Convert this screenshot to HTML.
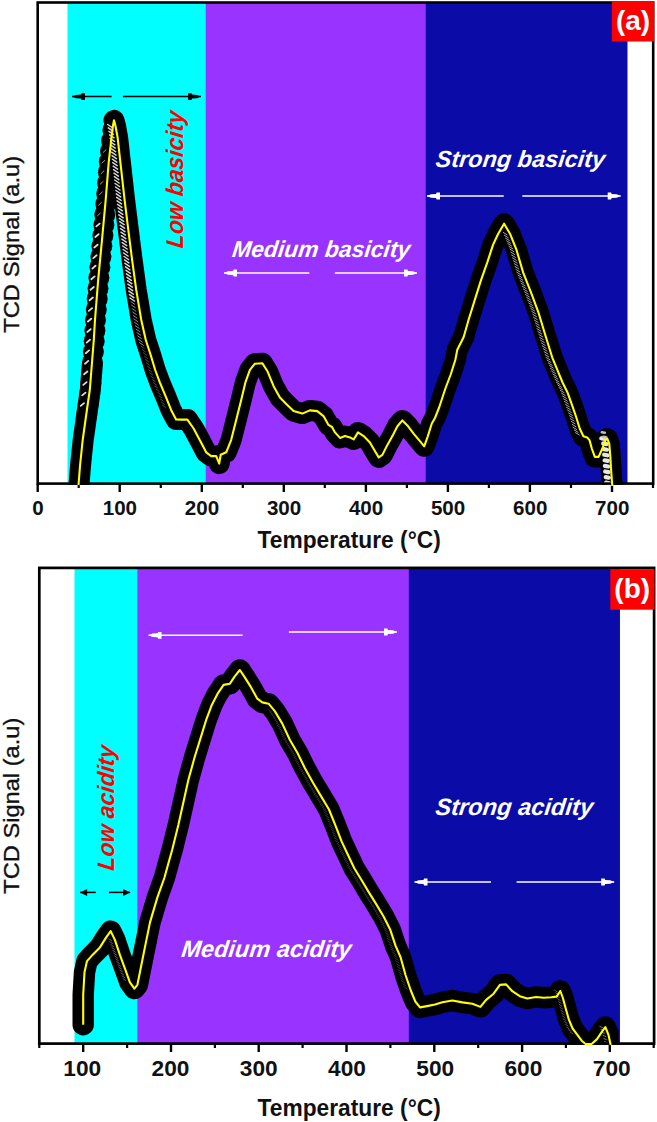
<!DOCTYPE html>
<html><head><meta charset="utf-8"><title>TPD profiles</title>
<style>html,body{margin:0;padding:0;background:#fff}body{width:657px;height:1122px;overflow:hidden;font-family:"Liberation Sans",sans-serif}</style>
</head><body>
<svg width="657" height="1122" viewBox="0 0 657 1122" style="display:block">
<defs>
<g id="mk"><circle r="10" fill="#000"/><path d="M0.5,-7.2A7.2,7.2 0 0 0 0.5,7.2Z" fill="#e8e8e8"/></g>
<g id="mk2"><circle r="10" fill="#000"/><path d="M-1,-7.4A7.4,7.4 0 0 0 -1,7.4Z" fill="#cfcfcf"/></g>
<path id="ah" d="M0,0L4,-1.7L9,-2L9.6,-3.4L13,-3.4L13,3.4L9.6,3.4L9,2L4,1.7Z"/>
<path id="ahs" d="M0,0L7,-3.5L7,3.5Z"/>
<clipPath id="ca"><rect x="38" y="3" width="615" height="482"/></clipPath>
<clipPath id="cay"><rect x="38" y="3" width="615" height="483.4"/></clipPath>
<clipPath id="cby"><rect x="39" y="568" width="615" height="477.2"/></clipPath>
<clipPath id="cb"><rect x="39" y="568" width="579.6" height="477"/></clipPath>
</defs>
<rect width="657" height="1122" fill="#fff"/>
<rect x="67.5" y="2.5" width="559.8" height="481" fill="#00FFFF"/>
<rect x="205.7" y="2.5" width="421.6" height="481" fill="#9933FF"/>
<rect x="425.7" y="2.5" width="201.6" height="481" fill="#0B0BA8"/>
<line x1="72" y1="96.6" x2="111.6" y2="96.6" stroke="#000" stroke-width="1.5"/><use href="#ah" x="72" y="96.6" fill="#000"/>
<line x1="122.9" y1="96.6" x2="201" y2="96.6" stroke="#000" stroke-width="1.5"/><use href="#ah" transform="translate(201,96.6) scale(-1,1)" fill="#000"/>
<line x1="224" y1="273" x2="309.3" y2="273" stroke="#fff" stroke-width="1.5"/><use href="#ah" x="224" y="273" fill="#fff"/>
<line x1="334.8" y1="273" x2="417" y2="273" stroke="#fff" stroke-width="1.5"/><use href="#ah" transform="translate(417,273) scale(-1,1)" fill="#fff"/>
<line x1="427" y1="196" x2="503.7" y2="196" stroke="#fff" stroke-width="1.5"/><use href="#ah" x="427" y="196" fill="#fff"/>
<line x1="522.3" y1="196" x2="620.7" y2="196" stroke="#fff" stroke-width="1.5"/><use href="#ah" transform="translate(620.7,196) scale(-1,1)" fill="#fff"/>
<text transform="translate(231.5 257) skewX(-7)" style="font-family:'Liberation Sans',sans-serif;font-weight:bold;font-style:italic;font-size:23px" fill="#fff" textLength="178" lengthAdjust="spacingAndGlyphs">Medium basicity</text>
<text transform="translate(435.0 167) skewX(-7)" style="font-family:'Liberation Sans',sans-serif;font-weight:bold;font-style:italic;font-size:23.4px" fill="#fff" textLength="169.4" lengthAdjust="spacingAndGlyphs">Strong basicity</text>
<text transform="translate(182.5 248.8) rotate(-90) skewX(-7)" style="font-family:'Liberation Sans',sans-serif;font-weight:bold;font-style:italic;font-size:24px" fill="#f00" textLength="137" lengthAdjust="spacingAndGlyphs">Low basicity</text>
<g clip-path="url(#ca)">
<polyline points="79.0,485.0 80.6,465.0 83.2,440.0 86.7,415.0 90.3,390.0 92.3,365.0" fill="none" stroke="#000" stroke-width="21.0" stroke-linejoin="round" stroke-linecap="round"/>
<polyline points="114.0,120.3 115.5,126.0 117.6,137.4 120.4,162.4 124.6,199.9 128.3,229.8 132.1,259.8 136.2,289.7 141.2,319.7 145.8,340.0 150.7,355.0 155.2,370.0 159.8,382.4 166.1,397.4 171.1,409.9 176.1,419.4 181.0,419.6 187.4,419.6" fill="none" stroke="#000" stroke-width="21.0" stroke-linejoin="round" stroke-linecap="round"/>
<polyline points="181.0,419.6 187.4,419.6 193.6,428.5 200.0,440.5 206.2,452.3 211.2,456.1 216.2,456.1 219.2,463.6 220.7,454.8 226.2,452.3 231.2,439.8 236.2,419.9 241.2,399.9 245.4,382.4 249.9,369.9 254.9,363.7 262.4,363.2 267.4,371.2 273.6,386.2 279.9,397.4 287.3,404.9 293.6,411.1 302.3,413.6 309.8,410.4 317.3,411.1 323.5,416.1 328.5,424.9 332.0,427.0 335.0,432.4 340.0,437.9 345.0,436.1 350.0,437.4 353.7,439.4 358.0,432.4 363.7,436.1 369.9,442.4 374.9,451.1 378.7,457.4 382.4,454.9 387.4,444.9 392.4,436.1 397.4,426.2 402.4,420.4 407.4,425.4 413.6,433.6 419.9,441.1 424.2,446.3 427.7,436.6 431.8,423.5 435.0,418.0 439.3,407.0 445.4,388.5 450.7,374.5 455.3,360.0 457.3,349.8 463.6,337.3 468.6,319.8 474.8,299.9 481.1,279.9 487.3,262.4 493.0,244.9 498.2,233.7 504.1,223.7 510.0,233.7 516.5,249.9 523.1,272.4 531.0,292.4 538.4,312.3 545.2,334.8 552.2,357.3 559.3,374.7 562.8,383.0 567.4,392.2 571.8,404.4 576.0,416.5 579.8,428.7 583.4,436.3 587.2,437.5 589.5,440.1 591.8,448.5 594.8,456.9 598.6,456.9 602.4,448.5 605.4,440.1 607.3,438.6 609.3,443.9 610.3,456.1 611.2,471.3 612.3,486.0" fill="none" stroke="#000" stroke-width="21.0" stroke-linejoin="round" stroke-linecap="round"/>
<circle cx="86.7" cy="415.0" r="10.5" fill="#000"/><circle cx="88.2" cy="404.5" r="10.5" fill="#000"/><circle cx="89.7" cy="394.0" r="10.5" fill="#000"/><circle cx="90.8" cy="383.5" r="10.5" fill="#000"/><circle cx="91.7" cy="372.9" r="10.5" fill="#000"/><circle cx="92.5" cy="362.3" r="10.5" fill="#000"/><circle cx="93.4" cy="351.8" r="10.5" fill="#000"/><circle cx="94.2" cy="341.2" r="10.5" fill="#000"/><circle cx="94.9" cy="330.6" r="10.5" fill="#000"/><circle cx="95.5" cy="320.1" r="10.5" fill="#000"/><circle cx="96.3" cy="309.5" r="10.5" fill="#000"/><circle cx="97.2" cy="298.9" r="10.5" fill="#000"/><circle cx="98.0" cy="288.4" r="10.5" fill="#000"/><circle cx="98.9" cy="277.8" r="10.5" fill="#000"/><circle cx="99.9" cy="267.2" r="10.5" fill="#000"/><circle cx="100.9" cy="256.7" r="10.5" fill="#000"/><circle cx="101.9" cy="246.1" r="10.5" fill="#000"/><circle cx="102.9" cy="235.6" r="10.5" fill="#000"/><circle cx="103.9" cy="225.0" r="10.5" fill="#000"/><circle cx="104.8" cy="214.5" r="10.5" fill="#000"/><circle cx="105.8" cy="203.9" r="10.5" fill="#000"/><circle cx="106.7" cy="193.4" r="10.5" fill="#000"/><circle cx="107.6" cy="182.8" r="10.5" fill="#000"/><circle cx="108.4" cy="172.2" r="10.5" fill="#000"/><circle cx="109.3" cy="161.7" r="10.5" fill="#000"/><circle cx="110.5" cy="151.1" r="10.5" fill="#000"/><circle cx="111.6" cy="140.6" r="10.5" fill="#000"/><circle cx="112.9" cy="130.1" r="10.5" fill="#000"/>
<path d="M80.7,405.9L84.0,403.1M82.2,395.4L85.5,392.6M83.3,384.9L86.6,382.1M84.1,374.3L87.4,371.5M85.0,363.7L88.3,360.9M85.8,353.2L89.1,350.4M86.7,342.6L90.0,339.8M87.3,332.0L90.6,329.2M87.9,321.5L91.2,318.7M88.8,310.9L92.1,308.1M89.6,300.3L92.9,297.5M90.5,289.8L93.8,287.0M91.3,279.2L94.6,276.4M92.3,268.6L95.6,265.8M93.3,258.1L96.6,255.3M94.3,247.5L97.6,244.7M95.3,237.0L98.6,234.2M96.3,226.4L99.6,223.6" stroke="#dcdcdc" stroke-width="1.8" stroke-linecap="round" fill="none"/>
<path d="M97.5,215.8L100.3,213.2M98.5,205.2L101.3,202.6M99.4,194.7L102.2,192.1M100.3,184.1L103.1,181.5M101.1,173.5L103.9,170.9M102.0,163.0L104.8,160.4M103.2,152.4L106.0,149.8" stroke="#9c9c9c" stroke-width="1.0" stroke-linecap="round" fill="none"/>
<path d="M107.7,124.5L112.1,127.5M108.3,127.9L112.7,130.9M109.0,131.4L113.4,134.4M109.6,134.8L114.0,137.8M110.1,138.3L114.5,141.3M110.5,141.8L114.9,144.8M110.8,145.2L115.2,148.2M111.2,148.7L115.6,151.7M111.6,152.2L116.0,155.2M112.0,155.7L116.4,158.7M112.4,159.2L116.8,162.2M112.8,162.6L117.2,165.6M113.2,166.1L117.6,169.1M113.6,169.6L118.0,172.6M114.0,173.1L118.4,176.1M114.4,176.6L118.8,179.6M114.7,180.0L119.1,183.0M115.1,183.5L119.5,186.5M115.5,187.0L119.9,190.0M115.9,190.5L120.3,193.5M116.3,193.9L120.7,196.9M116.7,197.4L121.1,200.4M117.1,200.9L121.5,203.9M117.5,204.4L121.9,207.4M118.0,207.8L122.4,210.8M118.4,211.3L122.8,214.3M118.8,214.8L123.2,217.8M119.3,218.3L123.7,221.3M119.7,221.7L124.1,224.7M120.1,225.2L124.5,228.2M120.5,228.7L124.9,231.7M121.0,232.2L125.4,235.2M121.4,235.6L125.8,238.6M121.9,239.1L126.3,242.1M122.3,242.6L126.7,245.6M122.7,246.0L127.1,249.0M123.2,249.5L127.6,252.5M123.6,253.0L128.0,256.0M124.1,256.5L128.5,259.5M124.5,259.9L128.9,262.9M125.0,263.4L129.4,266.4M125.5,266.9L129.9,269.9M126.0,270.3L130.4,273.3M126.4,273.8L130.8,276.8M126.9,277.3L131.3,280.3M127.4,280.7L131.8,283.7M127.9,284.2L132.3,287.2M128.3,287.7L132.7,290.7M128.9,291.1L133.3,294.1M129.5,294.6L133.9,297.6M130.0,298.0L134.4,301.0" stroke="#d6d6d6" stroke-width="1.5" stroke-linecap="round" fill="none"/>
<path d="M130.9,301.7L134.7,304.3M131.5,305.1L135.3,307.7M132.1,308.6L135.9,311.2M132.6,312.0L136.4,314.6M133.2,315.5L137.0,318.1M133.8,318.9L137.6,321.5M134.6,322.4L138.4,325.0M135.4,325.8L139.2,328.4M136.1,329.2L139.9,331.8M136.9,332.6L140.7,335.2M137.7,336.0L141.5,338.6M138.5,339.4L142.3,342.0M139.6,342.7L143.4,345.3" stroke="#8c8c8c" stroke-width="1.0" stroke-linecap="round" fill="none"/>
<path d="M141.3,346.3L144.3,348.5M142.4,349.6L145.4,351.8M143.5,352.9L146.5,355.1M144.5,356.3L147.5,358.5M145.5,359.6L148.5,361.8M146.5,363.0L149.5,365.2M147.5,366.3L150.5,368.5M148.6,369.7L151.6,371.9M149.8,372.9L152.8,375.1M151.0,376.2L154.0,378.4M152.2,379.5L155.2,381.7M153.5,382.8L156.5,385.0M154.9,386.0L157.9,388.2M156.2,389.2L159.2,391.4M157.6,392.4L160.6,394.6M158.9,395.7L161.9,397.9M160.2,398.9L163.2,401.1M161.5,402.2L164.5,404.4M162.8,405.4L165.8,407.6" stroke="#5e5e5e" stroke-width="0.8" stroke-linecap="round" fill="none"/>
<path d="M503.3,232.5L507.1,234.9M504.4,235.3L508.2,237.7M505.5,238.1L509.3,240.5M506.7,240.9L510.5,243.3M507.8,243.6L511.6,246.0M508.9,246.4L512.7,248.8M510.0,249.2L513.8,251.6M510.8,252.1L514.6,254.5M511.6,255.0L515.4,257.4M512.5,257.9L516.3,260.3M513.3,260.7L517.1,263.1M514.2,263.6L518.0,266.0M515.0,266.5L518.8,268.9M515.9,269.4L519.7,271.8M516.8,272.2L520.6,274.6M517.9,275.0L521.7,277.4M519.0,277.8L522.8,280.2M520.1,280.6L523.9,283.0M521.2,283.4L525.0,285.8M522.3,286.2L526.1,288.6M523.4,289.0L527.2,291.4M524.5,291.8L528.3,294.2M525.6,294.6L529.4,297.0M526.6,297.4L530.4,299.8M527.6,300.2L531.4,302.6M528.7,303.0L532.5,305.4M529.7,305.8L533.5,308.2M530.8,308.6L534.6,311.0M531.8,311.4L535.6,313.8M532.7,314.3L536.5,316.7M533.5,317.2L537.3,319.6M534.4,320.1L538.2,322.5M535.3,322.9L539.1,325.3M536.1,325.8L539.9,328.2M537.0,328.7L540.8,331.1M537.9,331.5L541.7,333.9M538.8,334.4L542.6,336.8M539.6,337.3L543.4,339.7M540.5,340.1L544.3,342.5M541.4,343.0L545.2,345.4M542.3,345.9L546.1,348.3M543.2,348.7L547.0,351.1M544.1,351.6L547.9,354.0M545.0,354.5L548.8,356.9M546.0,357.3L549.8,359.7M547.1,360.1L550.9,362.5M548.3,362.9L552.1,365.3M549.4,365.6L553.2,368.0M550.5,368.4L554.3,370.8M551.7,371.2L555.5,373.6M552.8,374.0L556.6,376.4M554.0,376.7L557.8,379.1M555.1,379.5L558.9,381.9M556.3,382.2L560.1,384.6M557.7,384.9L561.5,387.3M559.0,387.6L562.8,390.0M560.3,390.3L564.1,392.7M561.4,393.1L565.2,395.5M562.5,395.9L566.3,398.3M563.5,398.7L567.3,401.1M564.5,401.5L568.3,403.9M565.5,404.4L569.3,406.8M566.5,407.2L570.3,409.6M567.5,410.0L571.3,412.4M568.5,412.9L572.3,415.3M569.4,415.7L573.2,418.1M570.3,418.6L574.1,421.0M571.2,421.4L575.0,423.8M572.1,424.3L575.9,426.7M573.0,427.2L576.8,429.6M574.2,429.9L578.0,432.3M575.5,432.6L579.3,435.0" stroke="#a8a8a8" stroke-width="1.0" stroke-linecap="round" fill="none"/>
<path d="M601.3,438.3L604.5,438.9M603.3,443.5L606.5,444.1M603.8,449.1L607.0,449.7M604.2,454.7L607.4,455.3M604.6,460.3L607.8,460.9M604.9,465.9L608.1,466.5M605.2,471.5L608.4,472.1M605.7,477.1L608.9,477.7M606.1,482.6L609.3,483.2" stroke="#e6e6e6" stroke-width="4.2" stroke-linecap="round" fill="none"/>
<path d="M603.2,436.7L606.2,437.3M601.8,432.2L604.8,432.8" stroke="#bdbdbd" stroke-width="2.6" stroke-linecap="round" fill="none"/>
</g>
<rect x="37.7" y="2.5" width="615.5" height="481.1" fill="none" stroke="#000" stroke-width="2.6"/>
<line x1="37.7" y1="484" x2="37.7" y2="492" stroke="#000" stroke-width="2.4"/>
<line x1="119.7" y1="484" x2="119.7" y2="492" stroke="#000" stroke-width="2.4"/>
<line x1="201.8" y1="484" x2="201.8" y2="492" stroke="#000" stroke-width="2.4"/>
<line x1="283.8" y1="484" x2="283.8" y2="492" stroke="#000" stroke-width="2.4"/>
<line x1="365.9" y1="484" x2="365.9" y2="492" stroke="#000" stroke-width="2.4"/>
<line x1="447.9" y1="484" x2="447.9" y2="492" stroke="#000" stroke-width="2.4"/>
<line x1="529.9" y1="484" x2="529.9" y2="492" stroke="#000" stroke-width="2.4"/>
<line x1="612.0" y1="484" x2="612.0" y2="492" stroke="#000" stroke-width="2.4"/>
<line x1="78.7" y1="484" x2="78.7" y2="488" stroke="#000" stroke-width="2.2"/>
<line x1="160.8" y1="484" x2="160.8" y2="488" stroke="#000" stroke-width="2.2"/>
<line x1="242.8" y1="484" x2="242.8" y2="488" stroke="#000" stroke-width="2.2"/>
<line x1="324.8" y1="484" x2="324.8" y2="488" stroke="#000" stroke-width="2.2"/>
<line x1="406.9" y1="484" x2="406.9" y2="488" stroke="#000" stroke-width="2.2"/>
<line x1="488.9" y1="484" x2="488.9" y2="488" stroke="#000" stroke-width="2.2"/>
<line x1="571.0" y1="484" x2="571.0" y2="488" stroke="#000" stroke-width="2.2"/>
<line x1="653.0" y1="484" x2="653.0" y2="488" stroke="#000" stroke-width="2.2"/>
<text x="37.9" y="514.8" text-anchor="middle" style="font-family:'Liberation Sans',sans-serif;font-weight:bold;font-size:20.6px" fill="#111">0</text>
<text x="119.9" y="514.8" text-anchor="middle" style="font-family:'Liberation Sans',sans-serif;font-weight:bold;font-size:20.6px" fill="#111">100</text>
<text x="202.0" y="514.8" text-anchor="middle" style="font-family:'Liberation Sans',sans-serif;font-weight:bold;font-size:20.6px" fill="#111">200</text>
<text x="284.1" y="514.8" text-anchor="middle" style="font-family:'Liberation Sans',sans-serif;font-weight:bold;font-size:20.6px" fill="#111">300</text>
<text x="366.1" y="514.8" text-anchor="middle" style="font-family:'Liberation Sans',sans-serif;font-weight:bold;font-size:20.6px" fill="#111">400</text>
<text x="448.1" y="514.8" text-anchor="middle" style="font-family:'Liberation Sans',sans-serif;font-weight:bold;font-size:20.6px" fill="#111">500</text>
<text x="530.2" y="514.8" text-anchor="middle" style="font-family:'Liberation Sans',sans-serif;font-weight:bold;font-size:20.6px" fill="#111">600</text>
<text x="612.2" y="514.8" text-anchor="middle" style="font-family:'Liberation Sans',sans-serif;font-weight:bold;font-size:20.6px" fill="#111">700</text>
<text x="257.6" y="547.6" style="font-family:'Liberation Sans',sans-serif;font-weight:bold;font-size:23.2px" fill="#111" textLength="183.2" lengthAdjust="spacingAndGlyphs">Temperature (°C)</text>
<text x="18.7" y="332.8" style="font-family:'Liberation Sans',sans-serif;font-size:22.5px" fill="#111" stroke="#111" stroke-width="0.35" textLength="177" lengthAdjust="spacingAndGlyphs" transform="rotate(-90 18.7 332.8)">TCD Signal (a.u)</text>
<polyline clip-path="url(#cay)" points="78.5,485.0 80.1,465.0 82.7,440.0 86.2,415.0 89.8,390.0 91.8,365.0 93.8,340.0 95.0,319.7 98.2,279.7 102.0,239.8 105.7,199.9 108.7,162.4 111.5,137.4 112.9,126.0 114.0,120.3 115.5,126.0 117.6,137.4 120.4,162.4 124.6,199.9 128.3,229.8 132.1,259.8 136.2,289.7 141.2,319.7 145.8,340.0 150.7,355.0 155.2,370.0 159.8,382.4 166.1,397.4 171.1,409.9 176.1,419.4 181.0,419.6 187.4,419.6 193.6,428.5 200.0,440.5 206.2,452.3 211.2,456.1 216.2,456.1 219.2,463.6 220.7,454.8 226.2,452.3 231.2,439.8 236.2,419.9 241.2,399.9 245.4,382.4 249.9,369.9 254.9,363.7 262.4,363.2 267.4,371.2 273.6,386.2 279.9,397.4 287.3,404.9 293.6,411.1 302.3,413.6 309.8,410.4 317.3,411.1 323.5,416.1 328.5,424.9 332.0,427.0 335.0,432.4 340.0,437.9 345.0,436.1 350.0,437.4 353.7,439.4 358.0,432.4 363.7,436.1 369.9,442.4 374.9,451.1 378.7,457.4 382.4,454.9 387.4,444.9 392.4,436.1 397.4,426.2 402.4,420.4 407.4,425.4 413.6,433.6 419.9,441.1 424.2,446.3 427.7,436.6 431.8,423.5 435.0,418.0 439.3,407.0 445.4,388.5 450.7,374.5 455.3,360.0 457.3,349.8 463.6,337.3 468.6,319.8 474.8,299.9 481.1,279.9 487.3,262.4 493.0,244.9 498.2,233.7 504.1,223.7 510.0,233.7 516.5,249.9 523.1,272.4 531.0,292.4 538.4,312.3 545.2,334.8 552.2,357.3 559.3,374.7 562.8,383.0 567.4,392.2 571.8,404.4 576.0,416.5 579.8,428.7 583.4,436.3 587.2,437.5 589.5,440.1 591.8,448.5 594.8,456.9 598.6,456.9 602.4,448.5 605.4,440.1 607.3,438.6 609.3,443.9 610.3,456.1 611.2,471.3 612.3,486.0" fill="none" stroke="#FFFF00" stroke-width="2.1" stroke-linejoin="round"/>
<rect x="611.8" y="1" width="42.4" height="40.5" fill="#FF0000"/>
<text x="633" y="30" text-anchor="middle" style="font-family:'Liberation Sans',sans-serif;font-weight:bold;font-size:28px" fill="#fff">(a)</text>
<rect x="74.5" y="568" width="545.4" height="476" fill="#00FFFF"/>
<rect x="137.4" y="568" width="482.5" height="476" fill="#9933FF"/>
<rect x="408.8" y="568" width="211.1" height="476" fill="#0B0BA8"/>
<line x1="80.1" y1="892.4" x2="95.8" y2="892.4" stroke="#000" stroke-width="1.5"/><use href="#ahs" x="80.1" y="892.4" fill="#000"/>
<line x1="108.9" y1="892.4" x2="130.2" y2="892.4" stroke="#000" stroke-width="1.5"/><use href="#ahs" transform="translate(130.2,892.4) scale(-1,1)" fill="#000"/>
<line x1="148.5" y1="635.3" x2="242.6" y2="635.3" stroke="#fff" stroke-width="1.5"/><use href="#ah" x="148.5" y="635.3" fill="#fff"/>
<line x1="288.9" y1="632" x2="397" y2="632" stroke="#fff" stroke-width="1.5"/><use href="#ah" transform="translate(397,632) scale(-1,1)" fill="#fff"/>
<line x1="414.5" y1="882" x2="491" y2="882" stroke="#fff" stroke-width="1.5"/><use href="#ah" x="414.5" y="882" fill="#fff"/>
<line x1="516.6" y1="882" x2="614.2" y2="882" stroke="#fff" stroke-width="1.5"/><use href="#ah" transform="translate(614.2,882) scale(-1,1)" fill="#fff"/>
<text transform="translate(180.7 957) skewX(-7)" style="font-family:'Liberation Sans',sans-serif;font-weight:bold;font-style:italic;font-size:23.5px" fill="#fff" textLength="170" lengthAdjust="spacingAndGlyphs">Medium acidity</text>
<text transform="translate(434.7 815) skewX(-7)" style="font-family:'Liberation Sans',sans-serif;font-weight:bold;font-style:italic;font-size:23.6px" fill="#fff" textLength="157.6" lengthAdjust="spacingAndGlyphs">Strong acidity</text>
<text transform="translate(113.7 871.3) rotate(-90) skewX(-7)" style="font-family:'Liberation Sans',sans-serif;font-weight:bold;font-style:italic;font-size:23.5px" fill="#f00" textLength="125" lengthAdjust="spacingAndGlyphs">Low acidity</text>
<g clip-path="url(#cb)">
<polyline points="83.2,1024.8 83.2,994.8 84.5,972.3 87.0,961.1 92.5,954.9 99.9,947.4 106.2,937.4 110.7,931.1 114.9,939.9 119.9,954.9 125.4,969.8 129.9,982.3 134.4,988.6 137.4,984.8 140.4,969.8 144.9,947.4 150.0,922.4 157.4,897.4 164.5,877.5 168.2,864.0 172.2,849.7 178.4,824.7 183.4,802.3 188.4,779.8 194.6,757.3 200.8,737.4 206.2,719.9 211.8,704.9 217.6,693.7 223.6,684.9 229.9,683.7 234.9,676.2 239.9,670.0 244.8,677.4 251.1,687.4 257.3,698.7 262.3,702.4 268.6,703.7 274.8,711.1 282.3,723.6 289.8,739.8 297.4,752.8 304.7,767.7 313.0,782.8 321.0,796.1 329.0,809.5 335.5,825.6 341.7,841.6 348.0,855.0 354.3,868.3 360.9,879.0 368.9,892.4 375.6,903.1 383.6,916.5 390.3,929.8 395.6,945.9 400.5,957.0 405.5,975.0 410.8,990.5 415.3,1001.5 420.0,1007.4 427.0,1006.1 435.0,1004.5 442.4,1002.3 452.4,1000.5 462.4,1002.4 472.4,1003.7 480.4,1006.9 486.1,999.9 493.6,993.7 499.9,984.9 506.1,984.4 512.3,991.2 519.8,996.2 527.3,998.5 536.1,997.0 543.7,997.7 551.3,997.2 556.6,996.6 560.3,991.0 562.9,998.0 565.8,1008.7 568.8,1019.4 572.6,1028.5 577.2,1034.6 581.7,1040.7 585.6,1044.0 591.6,1044.0 597.0,1039.1 601.5,1032.3 605.3,1027.0 608.4,1034.6 610.7,1045.0" fill="none" stroke="#000" stroke-width="21.4" stroke-linejoin="round" stroke-linecap="round"/>
<path d="M108.9,938.9L111.7,940.9M109.8,941.7L112.6,943.7M110.8,944.6L113.6,946.6M111.7,947.4L114.5,949.4M112.7,950.3L115.5,952.3M113.6,953.1L116.4,955.1M114.7,956.0L117.5,958.0M115.7,958.8L118.5,960.8M116.7,961.6L119.5,963.6M117.8,964.4L120.6,966.4M118.8,967.2L121.6,969.2M119.8,970.0L122.6,972.0M120.9,972.9L123.7,974.9M121.9,975.7L124.7,977.7M122.9,978.5L125.7,980.5" stroke="#777" stroke-width="0.8" stroke-linecap="round" fill="none"/>
<path d="M268.6,710.0L271.8,712.2M270.1,712.6L273.3,714.8M271.7,715.1L274.9,717.3M273.2,717.7L276.4,719.9M274.8,720.3L278.0,722.5M276.3,722.9L279.5,725.1M277.5,725.6L280.7,727.8M278.8,728.3L282.0,730.5M280.1,731.1L283.3,733.3M281.3,733.8L284.5,736.0M282.6,736.5L285.8,738.7M283.9,739.2L287.1,741.4M285.4,741.8L288.6,744.0M286.9,744.4L290.1,746.6M288.4,747.0L291.6,749.2M289.9,749.6L293.1,751.8M291.4,752.2L294.6,754.4M292.7,754.9L295.9,757.1M294.1,757.5L297.3,759.7M295.4,760.2L298.6,762.4M296.7,762.9L299.9,765.1M298.0,765.6L301.2,767.8M299.4,768.3L302.6,770.5M300.9,770.9L304.1,773.1M302.3,773.5L305.5,775.7M303.8,776.2L307.0,778.4M305.2,778.8L308.4,781.0M306.7,781.4L309.9,783.6M308.2,784.0L311.4,786.2M309.7,786.6L312.9,788.8M311.3,789.1L314.5,791.3M312.8,791.7L316.0,793.9M314.4,794.3L317.6,796.5M315.9,796.9L319.1,799.1M317.4,799.4L320.6,801.6M319.0,802.0L322.2,804.2M320.5,804.6L323.7,806.8M322.1,807.2L325.3,809.4M323.4,809.8L326.6,812.0M324.5,812.6L327.7,814.8M325.6,815.4L328.8,817.6M326.8,818.2L330.0,820.4M327.9,821.0L331.1,823.2M329.0,823.8L332.2,826.0M330.1,826.6L333.3,828.8M331.2,829.3L334.4,831.5M332.3,832.1L335.5,834.3M333.3,834.9L336.5,837.1M334.4,837.7L337.6,839.9M335.5,840.5L338.7,842.7M336.8,843.3L340.0,845.5M338.1,846.0L341.3,848.2M339.3,848.7L342.5,850.9M340.6,851.4L343.8,853.6M341.9,854.1L345.1,856.3M343.2,856.8L346.4,859.0M344.5,859.5L347.7,861.7M345.8,862.2L349.0,864.4M347.0,865.0L350.2,867.2M348.4,867.6L351.6,869.8M349.9,870.2L353.1,872.4M351.5,872.7L354.7,874.9M353.1,875.3L356.3,877.5M354.7,877.9L357.9,880.1M356.2,880.4L359.4,882.6M357.7,883.0L360.9,885.2M359.3,885.6L362.5,887.8M360.8,888.2L364.0,890.4M362.4,890.7L365.6,892.9M363.9,893.3L367.1,895.5M365.5,895.8L368.7,898.0M367.1,898.4L370.3,900.6M368.7,900.9L371.9,903.1M370.3,903.5L373.5,905.7M371.8,906.0L375.0,908.2M373.4,908.6L376.6,910.8M374.9,911.2L378.1,913.4M376.4,913.8L379.6,916.0M377.9,916.4L381.1,918.6M379.2,919.1L382.4,921.3M380.6,921.7L383.8,923.9M381.9,924.4L385.1,926.6M383.3,927.1L386.5,929.3M384.5,929.9L387.7,932.1M385.4,932.7L388.6,934.9M386.4,935.6L389.6,937.8M387.3,938.4L390.5,940.6M388.2,941.3L391.4,943.5M389.2,944.1L392.4,946.3M390.3,946.9L393.5,949.1M391.5,949.6L394.7,951.8M392.7,952.4L395.9,954.6M393.9,955.1L397.1,957.3M394.9,958.0L398.1,960.2M395.7,960.8L398.9,963.0M396.5,963.7L399.7,965.9M397.3,966.6L400.5,968.8M398.1,969.5L401.3,971.7M398.9,972.4L402.1,974.6M399.8,975.3L403.0,977.5M400.7,978.1L403.9,980.3M401.7,980.9L404.9,983.1M402.7,983.8L405.9,986.0M403.7,986.6L406.9,988.8" stroke="#4a4a4a" stroke-width="0.7" stroke-linecap="round" fill="none"/>
<path d="M554.6,990.1L557.2,991.9M555.6,992.9L558.2,994.7M556.7,995.7L559.3,997.5M557.6,998.6L560.2,1000.4M558.4,1001.5L561.0,1003.3M559.2,1004.4L561.8,1006.2M560.0,1007.3L562.6,1009.1M560.8,1010.2L563.4,1012.0M561.6,1013.0L564.2,1014.8M562.4,1015.9L565.0,1017.7M563.2,1018.8L565.8,1020.6M564.4,1021.6L567.0,1023.4M565.5,1024.3L568.1,1026.1M566.7,1027.1L569.3,1028.9M568.4,1029.6L571.0,1031.4M570.2,1032.0L572.8,1033.8" stroke="#6c6c6c" stroke-width="0.8" stroke-linecap="round" fill="none"/>
<path d="M599.8,1026.5L602.4,1027.5M601.0,1029.5L603.6,1030.5M602.2,1032.4L604.8,1033.4M603.2,1035.5L605.8,1036.5M603.9,1038.6L606.5,1039.6M604.6,1041.7L607.2,1042.7" stroke="#8a8a8a" stroke-width="0.9" stroke-linecap="round" fill="none"/>
</g>
<rect x="39.3" y="567.9" width="614.8" height="475.7" fill="none" stroke="#000" stroke-width="2.7"/>
<line x1="83.2" y1="1044" x2="83.2" y2="1052" stroke="#000" stroke-width="2.4"/>
<line x1="171.0" y1="1044" x2="171.0" y2="1052" stroke="#000" stroke-width="2.4"/>
<line x1="258.7" y1="1044" x2="258.7" y2="1052" stroke="#000" stroke-width="2.4"/>
<line x1="346.5" y1="1044" x2="346.5" y2="1052" stroke="#000" stroke-width="2.4"/>
<line x1="434.3" y1="1044" x2="434.3" y2="1052" stroke="#000" stroke-width="2.4"/>
<line x1="522.1" y1="1044" x2="522.1" y2="1052" stroke="#000" stroke-width="2.4"/>
<line x1="609.8" y1="1044" x2="609.8" y2="1052" stroke="#000" stroke-width="2.4"/>
<line x1="39.3" y1="1044" x2="39.3" y2="1048" stroke="#000" stroke-width="2.2"/>
<line x1="127.1" y1="1044" x2="127.1" y2="1048" stroke="#000" stroke-width="2.2"/>
<line x1="214.9" y1="1044" x2="214.9" y2="1048" stroke="#000" stroke-width="2.2"/>
<line x1="302.6" y1="1044" x2="302.6" y2="1048" stroke="#000" stroke-width="2.2"/>
<line x1="390.4" y1="1044" x2="390.4" y2="1048" stroke="#000" stroke-width="2.2"/>
<line x1="478.2" y1="1044" x2="478.2" y2="1048" stroke="#000" stroke-width="2.2"/>
<line x1="565.9" y1="1044" x2="565.9" y2="1048" stroke="#000" stroke-width="2.2"/>
<line x1="653.7" y1="1044" x2="653.7" y2="1048" stroke="#000" stroke-width="2.2"/>
<text x="82.3" y="1076.2" text-anchor="middle" style="font-family:'Liberation Sans',sans-serif;font-weight:bold;font-size:22.7px" fill="#111">100</text>
<text x="170.5" y="1076.2" text-anchor="middle" style="font-family:'Liberation Sans',sans-serif;font-weight:bold;font-size:22.7px" fill="#111">200</text>
<text x="258.8" y="1076.2" text-anchor="middle" style="font-family:'Liberation Sans',sans-serif;font-weight:bold;font-size:22.7px" fill="#111">300</text>
<text x="347.0" y="1076.2" text-anchor="middle" style="font-family:'Liberation Sans',sans-serif;font-weight:bold;font-size:22.7px" fill="#111">400</text>
<text x="435.2" y="1076.2" text-anchor="middle" style="font-family:'Liberation Sans',sans-serif;font-weight:bold;font-size:22.7px" fill="#111">500</text>
<text x="523.4" y="1076.2" text-anchor="middle" style="font-family:'Liberation Sans',sans-serif;font-weight:bold;font-size:22.7px" fill="#111">600</text>
<text x="611.7" y="1076.2" text-anchor="middle" style="font-family:'Liberation Sans',sans-serif;font-weight:bold;font-size:22.7px" fill="#111">700</text>
<text x="257.6" y="1116.4" style="font-family:'Liberation Sans',sans-serif;font-weight:bold;font-size:23.2px" fill="#111" textLength="183.2" lengthAdjust="spacingAndGlyphs">Temperature (°C)</text>
<text x="18.7" y="893.7" style="font-family:'Liberation Sans',sans-serif;font-size:22.5px" fill="#111" stroke="#111" stroke-width="0.35" textLength="176" lengthAdjust="spacingAndGlyphs" transform="rotate(-90 18.7 893.7)">TCD Signal (a.u)</text>
<polyline clip-path="url(#cby)" points="83.2,1024.8 83.2,994.8 84.5,972.3 87.0,961.1 92.5,954.9 99.9,947.4 106.2,937.4 110.7,931.1 114.9,939.9 119.9,954.9 125.4,969.8 129.9,982.3 134.4,988.6 137.4,984.8 140.4,969.8 144.9,947.4 150.0,922.4 157.4,897.4 164.5,877.5 168.2,864.0 172.2,849.7 178.4,824.7 183.4,802.3 188.4,779.8 194.6,757.3 200.8,737.4 206.2,719.9 211.8,704.9 217.6,693.7 223.6,684.9 229.9,683.7 234.9,676.2 239.9,670.0 244.8,677.4 251.1,687.4 257.3,698.7 262.3,702.4 268.6,703.7 274.8,711.1 282.3,723.6 289.8,739.8 297.4,752.8 304.7,767.7 313.0,782.8 321.0,796.1 329.0,809.5 335.5,825.6 341.7,841.6 348.0,855.0 354.3,868.3 360.9,879.0 368.9,892.4 375.6,903.1 383.6,916.5 390.3,929.8 395.6,945.9 400.5,957.0 405.5,975.0 410.8,990.5 415.3,1001.5 420.0,1007.4 427.0,1006.1 435.0,1004.5 442.4,1002.3 452.4,1000.5 462.4,1002.4 472.4,1003.7 480.4,1006.9 486.1,999.9 493.6,993.7 499.9,984.9 506.1,984.4 512.3,991.2 519.8,996.2 527.3,998.5 536.1,997.0 543.7,997.7 551.3,997.2 556.6,996.6 560.3,991.0 562.9,998.0 565.8,1008.7 568.8,1019.4 572.6,1028.5 577.2,1034.6 581.7,1040.7 585.6,1044.0 591.6,1044.0 597.0,1039.1 601.5,1032.3 605.3,1027.0 608.4,1034.6 610.7,1045.0" fill="none" stroke="#FFFF00" stroke-width="2.1" stroke-linejoin="round"/>
<rect x="610.3" y="569.1" width="44.1" height="40.6" fill="#FF0000"/>
<text x="632.2" y="598.3" text-anchor="middle" style="font-family:'Liberation Sans',sans-serif;font-weight:bold;font-size:28px" fill="#fff">(b)</text>
</svg>
</body></html>
